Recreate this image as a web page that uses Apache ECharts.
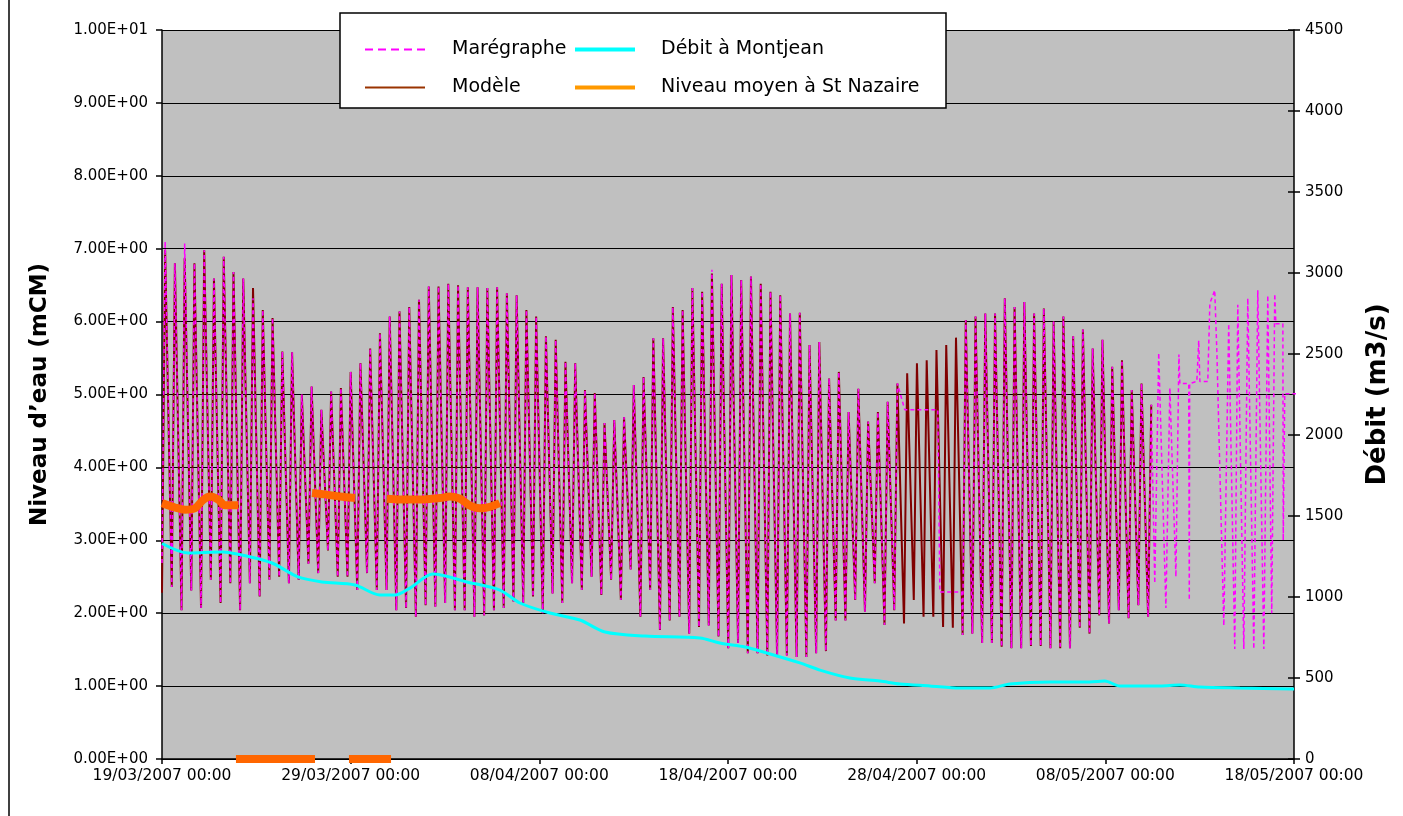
<!DOCTYPE html>
<html>
<head>
<meta charset="utf-8">
<title>Niveau d'eau et débit</title>
<script src="https://cdn.jsdelivr.net/npm/echarts@6/dist/echarts.min.js"></script>
<style>
  html, body { margin: 0; padding: 0; background: #fff; }
  #chart { width: 1403px; height: 816px; }
</style>
</head>
<body>
<div id="chart"></div>
<script>
// x is counted in days from 19/03/2007 00:00
const startDate = new Date(2007, 2, 19)
const tidePeriodHours = 12.42
const floodHours = 4   // low water -> high water

// Modèle: low and high water of each tide (mCM)
const modeleLow = [
  2.28, 2.36, 2.04, 2.31, 2.07, 2.46, 2.14, 2.41, 2.04, 2.41,
  2.23, 2.46, 2.50, 2.41, 2.46, 2.68, 2.55, 2.86, 2.50, 2.50,
  2.32, 2.55, 2.32, 2.32, 2.04, 2.07, 1.95, 2.11, 2.09, 2.14,
  2.04, 2.04, 1.95, 1.97, 2.04, 2.07, 2.16, 2.14, 2.23, 2.00,
  2.27, 2.14, 2.41, 2.32, 2.50, 2.25, 2.46, 2.18, 2.60, 1.95,
  2.32, 1.77, 1.90, 1.95, 1.72, 1.81, 1.83, 1.68, 1.52, 1.59,
  1.45, 1.45, 1.42, 1.40, 1.42, 1.40, 1.40, 1.45, 1.48, 1.90,
  1.90, 2.18, 2.02, 2.41, 1.84, 2.04, 1.86, 2.18, 1.95, 1.95,
  1.81, 1.80, 1.70, 1.72, 1.59, 1.59, 1.54, 1.52, 1.52, 1.55,
  1.55, 1.52, 1.52, 1.52, 1.80, 1.72, 1.97, 1.86, 2.04, 1.93,
  2.11, 1.95
]
const modeleHigh = [
  6.98, 6.80, 6.87, 6.80, 6.98, 6.59, 6.89, 6.68, 6.59, 6.46,
  6.16, 6.05, 5.59, 5.58, 5.00, 5.11, 4.79, 5.04, 5.09, 5.31,
  5.43, 5.63, 5.84, 6.07, 6.14, 6.20, 6.30, 6.48, 6.48, 6.52,
  6.50, 6.47, 6.47, 6.46, 6.47, 6.39, 6.36, 6.16, 6.07, 5.80,
  5.75, 5.45, 5.43, 5.06, 5.02, 4.61, 4.65, 4.69, 5.13, 5.24,
  5.77, 5.77, 6.20, 6.16, 6.46, 6.41, 6.66, 6.52, 6.64, 6.57,
  6.62, 6.52, 6.41, 6.36, 6.11, 6.12, 5.68, 5.72, 5.22, 5.31,
  4.76, 5.08, 4.63, 4.76, 4.90, 5.15, 5.29, 5.43, 5.47, 5.61,
  5.68, 5.78, 6.02, 6.07, 6.11, 6.11, 6.32, 6.20, 6.27, 6.11,
  6.18, 6.00, 6.07, 5.80, 5.89, 5.63, 5.75, 5.38, 5.47, 5.06,
  5.15, 4.86
]

// Marégraphe: same tides, null where the gauge has no tide
const maregrapheLow = [
  2.69, 2.36, 2.04, 2.31, 2.07, 2.46, 2.14, 2.41, 2.04, 2.41,
  2.23, 2.46, 2.50, 2.41, 2.46, 2.68, 2.55, 2.86, 2.50, 2.50,
  2.32, 2.55, 2.32, 2.32, 2.04, 2.07, 1.95, 2.11, 2.09, 2.14,
  2.04, 2.04, 1.95, 1.97, 2.04, 2.07, 2.16, 2.14, 2.23, 2.00,
  2.27, 2.14, 2.41, 2.32, 2.50, 2.25, 2.46, 2.18, 2.60, 1.95,
  2.32, 1.77, 1.90, 1.95, 1.72, 1.81, 1.83, 1.68, 1.52, 1.59,
  1.45, 1.45, 1.42, 1.40, 1.42, 1.40, 1.40, 1.45, 1.48, 1.90,
  1.90, 2.18, 2.02, 2.41, 1.84, 2.04, null, null, null, null,
  null, null, 1.70, 1.72, 1.59, 1.59, 1.54, 1.52, 1.52, 1.55,
  1.55, 1.52, 1.52, 1.52, 1.80, 1.72, 1.97, 1.86, 2.04, 1.93,
  2.11, 1.95
]
const maregrapheHigh = [
  7.10, 6.80, 7.07, 6.80, 6.98, 6.59, 6.89, 6.68, 6.59, 6.32,
  6.16, 6.05, 5.59, 5.58, 5.00, 5.11, 4.79, 5.04, 5.09, 5.31,
  5.43, 5.63, 5.84, 6.07, 6.14, 6.20, 6.30, 6.48, 6.48, 6.52,
  6.50, 6.47, 6.47, 6.46, 6.47, 6.39, 6.36, 6.16, 6.07, 5.80,
  5.75, 5.45, 5.43, 5.06, 5.02, 4.61, 4.65, 4.69, 5.13, 5.24,
  5.77, 5.77, 6.20, 6.16, 6.46, 6.41, 6.71, 6.52, 6.64, 6.57,
  6.62, 6.52, 6.41, 6.36, 6.11, 6.12, 5.68, 5.72, 5.22, 5.31,
  4.76, 5.08, 4.63, 4.76, 4.90, 5.15, null, null, null, null,
  null, null, 6.02, 6.07, 6.11, 6.11, 6.32, 6.20, 6.27, 6.11,
  6.18, 6.00, 6.07, 5.80, 5.89, 5.63, 5.75, 5.38, 5.47, 5.06,
  5.15, 4.86
]
// Marégraphe readings off the tide grid (flat gaps and the last week)
const maregrapheExtraDays = [
  39.37, 41.12, 41.23, 42.39,
  52.62, 52.83, 53.21, 53.42, 53.74, 53.90, 53.95, 54.42, 54.45, 54.47,
  54.85, 54.95, 55.01, 55.43, 55.54, 55.80, 55.91, 56.28, 56.54, 56.86,
  57.02, 57.34, 57.55, 57.87, 58.08, 58.40, 58.61, 58.82, 58.98, 59.04,
  59.41, 59.43, 59.51, 60.30
]
const maregrapheExtraValues = [
  4.79, 4.79, 2.29, 2.29,
  2.41, 5.57, 2.07, 5.09, 2.50, 5.55, 5.15, 5.15, 2.18, 5.15,
  5.18, 5.74, 5.18, 5.18, 6.25, 6.43, 5.60, 1.83, 5.97, 1.51,
  6.23, 1.51, 6.32, 1.51, 6.43, 1.51, 6.36, 2.00, 6.38, 5.97,
  5.97, 3.00, 5.01, 5.01
]

// Débit à Montjean (m3/s)
const debitDays = [
  0, 1.38, 3.18, 4.24, 5.83, 7.21, 8.48, 10.23, 11.55, 12.35,
  13.14, 14.36, 16.16, 17.91, 18.97, 20.56, 22.15, 23.48, 25.6, 28.51,
  29.57, 30.9, 31.69, 33.81, 34.87, 36.46, 38.05, 39.11, 40.7, 42.29,
  43.88, 44.94, 47.06, 49.18, 49.97, 50.77, 52.89, 53.95, 55.01, 57.13,
  60
]
const debitValues = [
  1330, 1272, 1278, 1259, 1210, 1124, 1093, 1074, 1012, 1012,
  1055, 1142, 1093, 1043, 963, 901, 858, 784, 759, 747,
  716, 691, 667, 593, 549, 500, 481, 463, 451, 438,
  438, 463, 475, 475, 481, 451, 451, 457, 444, 438,
  432
]

// Niveau moyen à St Nazaire (mCM), null = break in the line
const niveauDays = [
  0, 0.69, 1.22, 1.75, 2.17, 2.54, 2.97, 3.34, 4.05, null,
  3.92, 8.11, null,
  7.95, 8.64, 9.43, 10.23, null,
  9.91, 12.14, null,
  11.92, 12.6, 13.67, 14.73, 15.26, 15.8, 16.3, 16.85, 17.38, 17.9
]
const niveauValues = [
  3.51, 3.45, 3.42, 3.44, 3.55, 3.60, 3.56, 3.48, 3.48, null,
  0, 0, null,
  3.65, 3.63, 3.60, 3.58, null,
  0, 0, null,
  3.57, 3.56, 3.56, 3.58, 3.60, 3.57, 3.48, 3.44, 3.46, 3.51
]

const tideData = (lows, highs) => {
  const pts = []
  lows.forEach((v, k) => {
    const t0 = k * tidePeriodHours / 24
    if (v !== null) pts.push([t0, v])
    if (highs[k] !== null) pts.push([t0 + floodHours / 24, highs[k]])
  })
  return pts
}

const modeleData = tideData(modeleLow, modeleHigh)
const maregrapheData = tideData(maregrapheLow, maregrapheHigh)
  .concat(maregrapheExtraDays.map((d, i) => [d, maregrapheExtraValues[i]]))
  .sort((a, b) => a[0] - b[0])
const debitData = debitDays.map((d, i) => [d, debitValues[i]])
const niveauData = niveauDays.map((d, i) => d === null ? ['-', '-'] : [d, niveauValues[i]])

const pad = n => (n < 10 ? '0' : '') + n
const dateLabel = d => {
  const dt = new Date(startDate.getTime())
  dt.setDate(dt.getDate() + Math.round(d))
  return pad(dt.getDate()) + '/' + pad(dt.getMonth() + 1) + '/' + dt.getFullYear() + ' 00:00'
}
const sciLabel = v => v.toExponential(2).toUpperCase().replace(/E([+-])(\d)$/, 'E$10$2')

// legend samples drawn as filled paths (60 wide)
const dashIcon = 'path://M0,0h8v2h-8z M13,0h8v2h-8z M26,0h8v2h-8z M39,0h8v2h-8z M52,0h8v2h-8z'
const thinIcon = 'path://M0,0h60v2h-60z'
const thickIcon = 'path://M0,0h60v4h-60z'

const labelFont = 'DejaVu Sans'
const chart = echarts.init(document.getElementById('chart'))
chart.setOption({
  animation: false,
  backgroundColor: '#fff',
  grid: {
    left: 162, right: 109, top: 30, bottom: 57,
    outerBoundsMode: 'none',
    show: true, backgroundColor: '#C0C0C0', borderWidth: 0
  },
  graphic: [
    { type: 'line', shape: { x1: 9, y1: 0, x2: 9, y2: 816 }, style: { stroke: '#000', lineWidth: 1.5 } },
    { type: 'rect', z: 50, shape: { x: 340, y: 13, width: 606, height: 95 },
      style: { fill: '#fff', stroke: '#000', lineWidth: 1.5 } }
  ],
  legend: [
    {
      z: 60, left: 360, top: 35, orient: 'vertical', itemGap: 19,
      itemWidth: 60, itemHeight: 4,
      textStyle: { fontFamily: labelFont, fontSize: 19, color: '#000', padding: [0, 0, 0, 22] },
      data: [
        { name: 'Marégraphe', icon: dashIcon, itemStyle: { color: '#FF00FF' } },
        { name: 'Modèle', icon: thinIcon, itemStyle: { color: '#993300' } }
      ]
    },
    {
      z: 60, left: 570, top: 35, orient: 'vertical', itemGap: 19,
      itemWidth: 62, itemHeight: 4,
      textStyle: { fontFamily: labelFont, fontSize: 19, color: '#000', padding: [0, 0, 0, 20] },
      data: [
        { name: 'Débit à Montjean', icon: thickIcon, itemStyle: { color: '#00FFFF' } },
        { name: 'Niveau moyen à St Nazaire', icon: thickIcon, itemStyle: { color: '#FF9900' } }
      ]
    }
  ],
  xAxis: {
    type: 'value', min: 0, max: 60, interval: 10,
    axisLine: { onZero: false, lineStyle: { color: '#000', width: 1.5 } },
    axisTick: { show: true, length: 5, lineStyle: { color: '#000', width: 1.5 } },
    axisLabel: { margin: 9, fontFamily: labelFont, fontSize: 15.5, color: '#000', formatter: dateLabel },
    splitLine: { show: false }
  },
  yAxis: [
    {
      type: 'value', min: 0, max: 10, interval: 1, position: 'left',
      name: 'Niveau d’eau (mCM)', nameLocation: 'middle', nameGap: 110, nameRotate: 90,
      nameTextStyle: { fontFamily: labelFont, fontWeight: 'bold', fontSize: 23, color: '#000' },
      axisLine: { show: true, lineStyle: { color: '#000', width: 1.5 } },
      axisTick: { show: true, length: 6, lineStyle: { color: '#000', width: 1.5 } },
      axisLabel: { margin: 14, fontFamily: labelFont, fontSize: 15, color: '#000', formatter: sciLabel },
      splitLine: { show: true, lineStyle: { color: '#000', width: 1.2 } }
    },
    {
      type: 'value', min: 0, max: 4500, interval: 500, position: 'right',
      name: 'Débit (m3/s)', nameLocation: 'middle', nameGap: 71, nameRotate: 90,
      nameTextStyle: { fontFamily: labelFont, fontWeight: 'bold', fontSize: 26, color: '#000' },
      axisLine: { show: true, lineStyle: { color: '#000', width: 1.5 } },
      axisTick: { show: true, length: 6, lineStyle: { color: '#000', width: 1.5 } },
      axisLabel: { margin: 11, fontFamily: labelFont, fontSize: 15, color: '#000', formatter: v => String(v) },
      splitLine: { show: false }
    },
    {
      // inner half of the crossing ticks on the right axis
      type: 'value', min: 0, max: 4500, interval: 500, position: 'right',
      axisLine: { show: false },
      axisTick: { show: true, inside: true, length: 6, lineStyle: { color: '#000', width: 1.5 } },
      axisLabel: { show: false },
      splitLine: { show: false }
    }
  ],
  series: [
    {
      name: 'Modèle', type: 'line', yAxisIndex: 0, data: modeleData,
      symbol: 'none', z: 2,
      lineStyle: { color: '#800000', width: 2 }, itemStyle: { color: '#800000' }
    },
    {
      name: 'Marégraphe', type: 'line', yAxisIndex: 0, data: maregrapheData,
      symbol: 'none', z: 3,
      lineStyle: { color: '#FF00FF', width: 1.5, type: [4, 3] }, itemStyle: { color: '#FF00FF' }
    },
    {
      name: 'Débit à Montjean', type: 'line', yAxisIndex: 1, data: debitData,
      symbol: 'none', smooth: 0.3, z: 4,
      lineStyle: { color: '#00FFFF', width: 3 }, itemStyle: { color: '#00FFFF' }
    },
    {
      name: 'Niveau moyen à St Nazaire', type: 'line', yAxisIndex: 0, data: niveauData,
      symbol: 'none', smooth: 0.3, clip: false, connectNulls: false, z: 5,
      lineStyle: { color: '#FF6600', width: 8 }, itemStyle: { color: '#FF6600' }
    }
  ]
})
</script>
</body>
</html>
